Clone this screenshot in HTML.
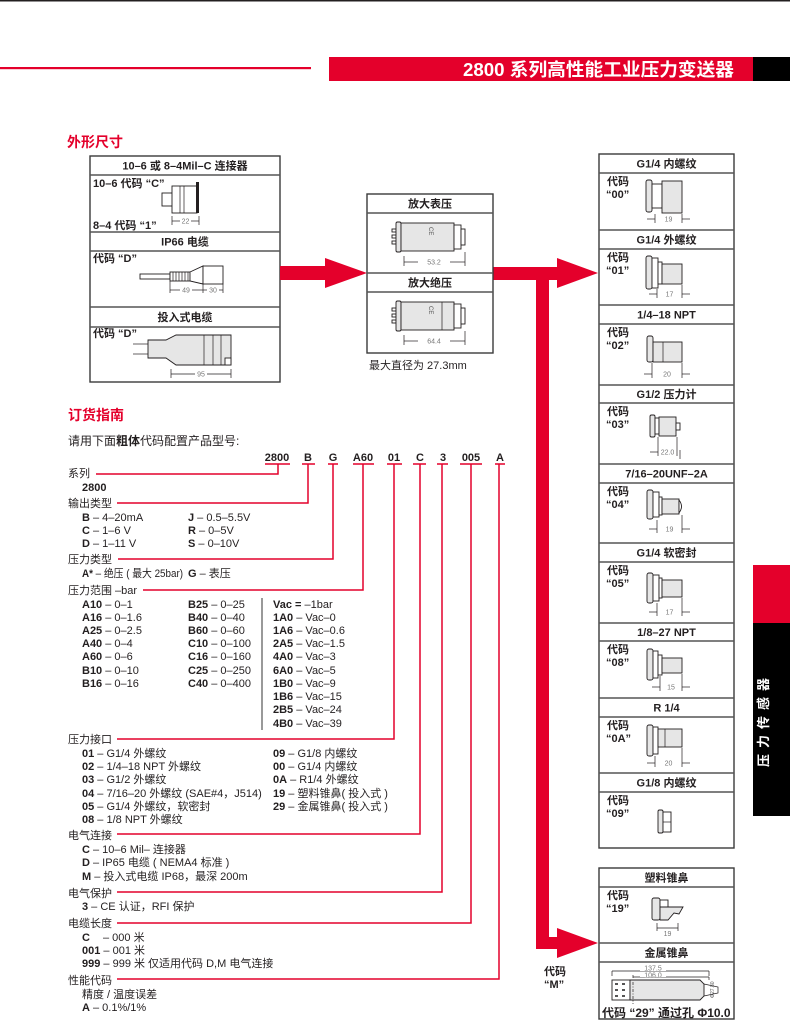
<!DOCTYPE html>
<html><head><meta charset="utf-8">
<style>
html,body{margin:0;padding:0;background:#fff;}
svg{display:block}
text{font-family:"Liberation Sans","Noto Sans CJK SC",sans-serif;fill:#231f20;}
.n{font-size:11px}
.b{font-weight:bold}
.h{font-size:11px;font-weight:bold;text-anchor:middle}
.d{font-size:7px;fill:#777;text-anchor:middle}
.bx{fill:none;stroke:#3a3a3a;stroke-width:1.4}
.sp{stroke:#555;stroke-width:1.6}
.rl{fill:none;stroke:#e4002b;stroke-width:1.5}
.f{fill:#e6e6e6;stroke:#231f20;stroke-width:0.9}
.w{fill:#fff;stroke:#231f20;stroke-width:0.9}
.dl{stroke:#231f20;stroke-width:0.7;fill:none}
</style></head><body>
<svg width="790" height="1032" viewBox="0 0 790 1032">
<!-- top -->
<rect x="0" y="0" width="790" height="1.5" fill="#231f20"/>
<rect x="0" y="67" width="311" height="2.2" fill="#e4002b"/>
<rect x="329" y="57" width="424" height="24" fill="#e4002b"/>
<rect x="753" y="57" width="37" height="24" fill="#000"/>
<text x="734" y="76" text-anchor="end" style="font-size:18px;font-weight:bold;fill:#fff" textLength="271" lengthAdjust="spacingAndGlyphs">2800 系列高性能工业压力变送器</text>

<text x="67" y="147" style="font-size:14px;font-weight:bold;fill:#e4002b">外形尺寸</text>
<text x="68" y="420" style="font-size:14px;font-weight:bold;fill:#e4002b">订货指南</text>

<!-- LEFT BOX -->
<rect class="bx" x="90" y="156" width="190" height="226"/>
<line class="sp" x1="90" y1="175" x2="280" y2="175"/>
<line class="sp" x1="90" y1="232" x2="280" y2="232"/>
<line class="sp" x1="90" y1="251" x2="280" y2="251"/>
<line class="sp" x1="90" y1="307" x2="280" y2="307"/>
<line class="sp" x1="90" y1="327" x2="280" y2="327"/>
<text class="h" x="185" y="169.5">10–6 或 8–4Mil–C 连接器</text>
<text class="h" x="185" y="245.5">IP66 电缆</text>
<text class="h" x="185" y="321">投入式电缆</text>
<text class="n b" x="93" y="187">10–6 代码 “C”</text>
<text class="n b" x="93" y="229">8–4 代码 “1”</text>
<text class="n b" x="93" y="262">代码 “D”</text>
<text class="n b" x="93" y="337">代码 “D”</text>
<!-- connector C -->
<rect class="w" x="162" y="193" width="11" height="13"/>
<rect class="w" x="172" y="186" width="25" height="27"/>
<line class="dl" x1="180" y1="186" x2="180" y2="213"/>
<line class="dl" x1="184" y1="186" x2="184" y2="213"/>
<rect x="196" y="182" width="3" height="31" fill="#231f20"/>
<line class="dl" x1="172" y1="216" x2="172" y2="225"/><line class="dl" x1="199" y1="216" x2="199" y2="225"/>
<line class="dl" x1="172" y1="221" x2="180" y2="221"/><line class="dl" x1="191" y1="221" x2="199" y2="221"/>
<text class="d" x="185.5" y="223.5">22</text>
<!-- IP66 cable -->
<rect class="w" x="140" y="274" width="30" height="5"/>
<rect class="w" x="170" y="272" width="20" height="9"/>
<g class="dl"><line x1="173" y1="272" x2="173" y2="281"/><line x1="176" y1="272" x2="176" y2="281"/><line x1="179" y1="272" x2="179" y2="281"/><line x1="182" y1="272" x2="182" y2="281"/><line x1="185" y1="272" x2="185" y2="281"/><line x1="188" y1="272" x2="188" y2="281"/></g>
<polygon class="w" points="190,272 203,266 203,284 190,281"/>
<rect class="w" x="203" y="266" width="20" height="18"/>
<line class="dl" x1="170" y1="281" x2="170" y2="293"/><line class="dl" x1="203" y1="284" x2="203" y2="293"/><line class="dl" x1="223" y1="284" x2="223" y2="293"/>
<line class="dl" x1="170" y1="290" x2="180" y2="290"/><line class="dl" x1="192" y1="290" x2="203" y2="290"/><line class="dl" x1="203" y1="290" x2="207" y2="290"/><line class="dl" x1="219" y1="290" x2="223" y2="290"/>
<text class="d" x="186" y="292.5">49</text><text class="d" x="213" y="292.5">30</text>
<!-- immersion -->
<line class="dl" x1="133" y1="344" x2="148" y2="344"/><line class="dl" x1="133" y1="354" x2="148" y2="354"/>
<path class="f" d="M148,340 L166,340 L176,335 L231,335 L231,365 L176,365 L166,358 L148,358 Z"/>
<line class="dl" x1="204" y1="335" x2="204" y2="365"/><line class="dl" x1="213" y1="335" x2="213" y2="365"/><line class="dl" x1="221" y1="335" x2="221" y2="365"/>
<rect class="w" x="225" y="358" width="6" height="7"/>
<line class="dl" x1="171" y1="369" x2="171" y2="378"/><line class="dl" x1="231" y1="369" x2="231" y2="378"/>
<line class="dl" x1="171" y1="374" x2="195" y2="374"/><line class="dl" x1="207" y1="374" x2="231" y2="374"/>
<text class="d" x="201" y="376.5">95</text>

<!-- ARROWS -->
<g fill="#e4002b">
<rect x="280" y="266" width="46" height="14"/>
<polygon points="325,258 367,273 325,288"/>
<rect x="493" y="267" width="65" height="13"/>
<polygon points="557,258 598,273 557,288"/>
<rect x="536" y="273" width="13" height="676"/>
<rect x="536" y="937" width="22" height="12"/>
<polygon points="557,928 598,943 557,958"/>
</g>
<text class="n b" x="544" y="975">代码</text>
<text class="n b" x="544" y="988">“M”</text>

<!-- MIDDLE BOX -->
<rect class="bx" x="367" y="194" width="126" height="159"/>
<line class="sp" x1="367" y1="213" x2="493" y2="213"/>
<line class="sp" x1="367" y1="273" x2="493" y2="273"/>
<line class="sp" x1="367" y1="292" x2="493" y2="292"/>
<text class="h" x="430" y="207.5">放大表压</text>
<text class="h" x="430" y="286.5">放大绝压</text>
<g id="tx">
<rect class="w" x="392" y="229" width="4" height="3"/><rect class="w" x="392" y="235" width="4" height="3"/><rect class="w" x="392" y="241" width="4" height="3"/>
<rect class="f" x="396" y="222" width="5" height="30" rx="1.5"/>
<rect class="f" x="401" y="223" width="53" height="28"/>
<rect class="w" x="454" y="225" width="7" height="24"/>
<rect class="w" x="461" y="229" width="4" height="16"/>
<text x="429" y="227" style="font-size:6px;fill:#555" transform="rotate(90 429 227)">CE</text>
</g>
<line class="dl" x1="404" y1="256" x2="404" y2="266"/><line class="dl" x1="465" y1="252" x2="465" y2="266"/>
<line class="dl" x1="404" y1="262" x2="418" y2="262"/><line class="dl" x1="450" y1="262" x2="465" y2="262"/>
<text class="d" x="434" y="264.5">53.2</text>
<use href="#tx" transform="translate(0,79)"/>
<line class="dl" x1="442" y1="302" x2="442" y2="330"/>
<line class="dl" x1="404" y1="335" x2="404" y2="345"/><line class="dl" x1="465" y1="331" x2="465" y2="345"/>
<line class="dl" x1="404" y1="341" x2="418" y2="341"/><line class="dl" x1="450" y1="341" x2="465" y2="341"/>
<text class="d" x="434" y="343.5">64.4</text>
<text class="n" x="369" y="369">最大直径为 27.3mm</text>

<!-- RIGHT BOX -->
<rect class="bx" x="599" y="154" width="135" height="694"/>
<g class="sp">
<line x1="599" y1="173" x2="734" y2="173"/><line x1="599" y1="230" x2="734" y2="230"/><line x1="599" y1="249" x2="734" y2="249"/>
<line x1="599" y1="305" x2="734" y2="305"/><line x1="599" y1="324" x2="734" y2="324"/><line x1="599" y1="385" x2="734" y2="385"/>
<line x1="599" y1="403" x2="734" y2="403"/><line x1="599" y1="464" x2="734" y2="464"/><line x1="599" y1="483" x2="734" y2="483"/>
<line x1="599" y1="543" x2="734" y2="543"/><line x1="599" y1="562" x2="734" y2="562"/><line x1="599" y1="623" x2="734" y2="623"/>
<line x1="599" y1="641" x2="734" y2="641"/><line x1="599" y1="698" x2="734" y2="698"/><line x1="599" y1="717" x2="734" y2="717"/>
<line x1="599" y1="773" x2="734" y2="773"/><line x1="599" y1="792" x2="734" y2="792"/>
</g>
<text class="h" x="666.5" y="167.5">G1/4 内螺纹</text>
<text class="h" x="666.5" y="243.5">G1/4 外螺纹</text>
<text class="h" x="666.5" y="318.5">1/4–18 NPT</text>
<text class="h" x="666.5" y="398">G1/2 压力计</text>
<text class="h" x="666.5" y="477.5">7/16–20UNF–2A</text>
<text class="h" x="666.5" y="556.5">G1/4 软密封</text>
<text class="h" x="666.5" y="636">1/8–27 NPT</text>
<text class="h" x="666.5" y="711.5">R 1/4</text>
<text class="h" x="666.5" y="786.5">G1/8 内螺纹</text>
<g class="n b">
<text x="607" y="185">代码</text><text x="606" y="198">“00”</text>
<text x="607" y="261">代码</text><text x="606" y="274">“01”</text>
<text x="607" y="336">代码</text><text x="606" y="349">“02”</text>
<text x="607" y="415">代码</text><text x="606" y="428">“03”</text>
<text x="607" y="495">代码</text><text x="606" y="508">“04”</text>
<text x="607" y="574">代码</text><text x="606" y="587">“05”</text>
<text x="607" y="653">代码</text><text x="606" y="666">“08”</text>
<text x="607" y="729">代码</text><text x="606" y="742">“0A”</text>
<text x="607" y="804">代码</text><text x="606" y="817">“09”</text>
</g>
<!-- 00 -->
<rect class="f" x="646" y="180" width="6" height="32" rx="2"/><rect class="w" x="652" y="184" width="10" height="24"/><rect class="f" x="662" y="181" width="20" height="32"/>
<g class="dl"><line x1="655" y1="214" x2="655" y2="223"/><line x1="682" y1="214" x2="682" y2="223"/><line x1="647" y1="219" x2="655" y2="219"/><line x1="682" y1="219" x2="690" y2="219"/></g>
<text class="d" x="668.5" y="221.5">19</text>
<!-- 01 -->
<rect class="f" x="646" y="256" width="6" height="33" rx="2"/><rect class="w" x="652" y="258" width="6" height="30"/><rect class="w" x="658" y="262" width="4" height="22"/><rect class="f" x="662" y="264" width="20" height="20"/>
<g class="dl"><line x1="657" y1="289" x2="657" y2="298"/><line x1="682" y1="285" x2="682" y2="298"/><line x1="649" y1="294" x2="657" y2="294"/><line x1="682" y1="294" x2="690" y2="294"/></g>
<text class="d" x="669.5" y="296.5">17</text>
<!-- 02 -->
<rect class="f" x="647" y="336" width="6" height="26" rx="2"/><rect class="f" x="653" y="342" width="29" height="20"/><line class="dl" x1="663" y1="342" x2="663" y2="362"/>
<g class="dl"><line x1="652" y1="363" x2="652" y2="378"/><line x1="682" y1="363" x2="682" y2="378"/><line x1="644" y1="374" x2="652" y2="374"/><line x1="682" y1="374" x2="690" y2="374"/></g>
<text class="d" x="667" y="376.5">20</text>
<!-- 03 -->
<rect class="f" x="650" y="415" width="5" height="22" rx="1.5"/><rect class="w" x="655" y="418" width="4" height="16"/><rect class="f" x="659" y="417" width="17" height="19"/><rect class="w" x="676" y="423" width="4" height="7"/>
<g class="dl"><line x1="658" y1="437" x2="658" y2="456"/><line x1="677" y1="437" x2="677" y2="456"/><line x1="680" y1="450" x2="680" y2="459"/><line x1="650" y1="452" x2="658" y2="452"/></g>
<text class="d" x="667.5" y="454.5">22.0</text>
<!-- 04 -->
<rect class="f" x="647" y="490" width="6" height="29" rx="2"/><rect class="w" x="653" y="492" width="6" height="25"/><rect class="w" x="659" y="497" width="3" height="18"/><rect class="f" x="662" y="499" width="17" height="15"/><path class="w" d="M679,500 Q684,506.5 679,513 Z"/>
<g class="dl"><line x1="657" y1="520" x2="657" y2="533"/><line x1="682" y1="515" x2="682" y2="533"/><line x1="649" y1="529" x2="657" y2="529"/><line x1="682" y1="529" x2="690" y2="529"/></g>
<text class="d" x="669.5" y="531.5">19</text>
<!-- 05 -->
<rect class="f" x="647" y="573" width="6" height="30" rx="2"/><rect class="w" x="653" y="575" width="6" height="26"/><rect class="w" x="659" y="578" width="3" height="20"/><rect class="f" x="662" y="580" width="20" height="17"/>
<g class="dl"><line x1="657" y1="603" x2="657" y2="616"/><line x1="682" y1="598" x2="682" y2="616"/><line x1="649" y1="612" x2="657" y2="612"/><line x1="682" y1="612" x2="690" y2="612"/></g>
<text class="d" x="669.5" y="614.5">17</text>
<!-- 08 -->
<rect class="f" x="647" y="649" width="6" height="31" rx="2"/><rect class="w" x="653" y="651" width="5" height="27"/><rect class="w" x="658" y="655" width="4" height="20"/><rect class="f" x="662" y="658" width="20" height="15"/>
<g class="dl"><line x1="660" y1="676" x2="660" y2="691"/><line x1="682" y1="674" x2="682" y2="691"/><line x1="652" y1="687" x2="660" y2="687"/><line x1="682" y1="687" x2="690" y2="687"/></g>
<text class="d" x="671" y="689.5">15</text>
<!-- 0A -->
<rect class="f" x="647" y="725" width="6" height="31" rx="2"/><rect class="w" x="653" y="727" width="5" height="27"/><rect class="f" x="658" y="729" width="24" height="18"/><line class="dl" x1="665" y1="729" x2="665" y2="747"/>
<g class="dl"><line x1="655" y1="756" x2="655" y2="767"/><line x1="682" y1="748" x2="682" y2="767"/><line x1="647" y1="763" x2="655" y2="763"/><line x1="682" y1="763" x2="690" y2="763"/></g>
<text class="d" x="668.5" y="765.5">20</text>
<!-- 09 -->
<rect class="f" x="658" y="810" width="5" height="23" rx="1.5"/><rect class="w" x="663" y="812" width="8" height="20"/><line class="dl" x1="663" y1="822" x2="671" y2="822"/>

<!-- LOWER RIGHT BOX -->
<rect class="bx" x="599" y="868" width="135" height="151"/>
<line class="sp" x1="599" y1="887" x2="734" y2="887"/>
<line class="sp" x1="599" y1="943" x2="734" y2="943"/>
<line class="sp" x1="599" y1="962" x2="734" y2="962"/>
<text class="h" x="666.5" y="881.5">塑料锥鼻</text>
<text class="h" x="666.5" y="956.5">金属锥鼻</text>
<text class="n b" x="607" y="899">代码</text><text class="n b" x="606" y="912">“19”</text>
<rect class="f" x="652" y="898" width="8" height="22" rx="2"/>
<rect class="w" x="660" y="900" width="8" height="7"/>
<path class="f" d="M660,907 L683,907 L679,914 L674,913 L668,920 L660,920 Z"/>
<g class="dl"><line x1="657" y1="923" x2="657" y2="931"/><line x1="678" y1="923" x2="678" y2="931"/><line x1="657" y1="928" x2="678" y2="928"/></g>
<text class="d" x="667.5" y="936">19</text>
<!-- metal nose -->
<g class="dl"><line x1="612" y1="971" x2="709" y2="971"/><line x1="612" y1="971" x2="612" y2="976"/><line x1="709" y1="971" x2="709" y2="976"/>
<line x1="633" y1="977" x2="709" y2="977"/><line x1="709" y1="977" x2="709" y2="980"/></g>
<rect x="640" y="965" width="26" height="6" fill="#fff"/><text class="d" x="653" y="970.5">137.5</text>
<rect x="640" y="972" width="26" height="5" fill="#fff"/><text class="d" x="653" y="977.5">106.0</text>
<rect class="w" x="612" y="980" width="18" height="20"/>
<g fill="#555"><rect x="615" y="983" width="3" height="2"/><rect x="622" y="983" width="3" height="2"/><rect x="615" y="989" width="3" height="2"/><rect x="622" y="989" width="3" height="2"/><rect x="615" y="995" width="3" height="2"/><rect x="622" y="995" width="3" height="2"/></g>
<path class="f" d="M630,980 L700,980 L704,984 L704,996 L700,1000 L630,1000 Z"/>
<line x1="633" y1="975" x2="633" y2="1004" stroke="#231f20" stroke-width="0.7" stroke-dasharray="3,1.5,1,1.5"/>
<path class="dl" d="M704,984 L718,987 L718,993 L704,996"/>
<text x="714" y="998" style="font-size:5px;fill:#555" transform="rotate(-90 714 998)">Φ27.80</text>
<text x="602" y="1017" style="font-size:12px;font-weight:bold">代码 “29” 通过孔 Φ10.0</text>

<!-- SIDE TAB -->
<rect x="753" y="565" width="37" height="58" fill="#e4002b"/>
<rect x="753" y="623" width="37" height="193" fill="#000"/>
<text x="768" y="719.5" text-anchor="middle" transform="rotate(-90 768 719.5)" style="font-size:13px;font-weight:bold;fill:#fff;letter-spacing:6px">压力传感器</text>

<!-- ORDER GUIDE -->
<text x="68" y="445" style="font-size:12px">请用下面<tspan class="b">粗体</tspan>代码配置产品型号:</text>
<g class="n b" text-anchor="middle">
<text x="277" y="461">2800</text><text x="308" y="461">B</text><text x="333" y="461">G</text><text x="363" y="461">A60</text>
<text x="394" y="461">01</text><text x="420" y="461">C</text><text x="443" y="461">3</text><text x="471" y="461">005</text><text x="500" y="461">A</text>
</g>
<g class="rl">
<line x1="265" y1="464" x2="290" y2="464"/><line x1="302" y1="464" x2="315" y2="464"/><line x1="328" y1="464" x2="338" y2="464"/>
<line x1="353" y1="464" x2="374" y2="464"/><line x1="387" y1="464" x2="402" y2="464"/><line x1="413" y1="464" x2="426" y2="464"/>
<line x1="437" y1="464" x2="448" y2="464"/><line x1="460" y1="464" x2="482" y2="464"/><line x1="495" y1="464" x2="505" y2="464"/>
<polyline points="278,464 278,474 96,474"/>
<polyline points="308,464 308,503 117,503"/>
<polyline points="333,464 333,559 118,559"/>
<polyline points="363,464 363,590 143,590"/>
<polyline points="394,464 394,739 117,739"/>
<polyline points="420,464 420,834 117,834"/>
<polyline points="442,464 442,892 117,892"/>
<polyline points="471,464 471,923 117,923"/>
<polyline points="499,464 499,979 117,979"/>
</g>
<g class="n">
<text x="68" y="477">系列</text>
<text x="82" y="491" class="b">2800</text>
<text x="68" y="507">输出类型</text>
<text x="82" y="521"><tspan class="b">B</tspan> – 4–20mA</text><text x="188" y="521"><tspan class="b">J</tspan> – 0.5–5.5V</text>
<text x="82" y="534"><tspan class="b">C</tspan> – 1–6 V</text><text x="188" y="534"><tspan class="b">R</tspan> – 0–5V</text>
<text x="82" y="547"><tspan class="b">D</tspan> – 1–11 V</text><text x="188" y="547"><tspan class="b">S</tspan> – 0–10V</text>
<text x="68" y="563">压力类型</text>
<text x="82" y="577" textLength="101" lengthAdjust="spacingAndGlyphs"><tspan class="b">A*</tspan> – 绝压 ( 最大 25bar)</text><text x="188" y="577"><tspan class="b">G</tspan> – 表压</text>
<text x="68" y="594">压力范围 –bar</text>
<text x="82" y="608"><tspan class="b">A10</tspan> – 0–1</text>
<text x="82" y="621"><tspan class="b">A16</tspan> – 0–1.6</text>
<text x="82" y="634"><tspan class="b">A25</tspan> – 0–2.5</text>
<text x="82" y="647"><tspan class="b">A40</tspan> – 0–4</text>
<text x="82" y="660"><tspan class="b">A60</tspan> – 0–6</text>
<text x="82" y="674"><tspan class="b">B10</tspan> – 0–10</text>
<text x="82" y="687"><tspan class="b">B16</tspan> – 0–16</text>
<text x="188" y="608"><tspan class="b">B25</tspan> – 0–25</text>
<text x="188" y="621"><tspan class="b">B40</tspan> – 0–40</text>
<text x="188" y="634"><tspan class="b">B60</tspan> – 0–60</text>
<text x="188" y="647"><tspan class="b">C10</tspan> – 0–100</text>
<text x="188" y="660"><tspan class="b">C16</tspan> – 0–160</text>
<text x="188" y="674"><tspan class="b">C25</tspan> – 0–250</text>
<text x="188" y="687"><tspan class="b">C40</tspan> – 0–400</text>
<text x="273" y="608"><tspan class="b">Vac =</tspan> –1bar</text>
<text x="273" y="621"><tspan class="b">1A0</tspan> – Vac–0</text>
<text x="273" y="634"><tspan class="b">1A6</tspan> – Vac–0.6</text>
<text x="273" y="647"><tspan class="b">2A5</tspan> – Vac–1.5</text>
<text x="273" y="660"><tspan class="b">4A0</tspan> – Vac–3</text>
<text x="273" y="674"><tspan class="b">6A0</tspan> – Vac–5</text>
<text x="273" y="687"><tspan class="b">1B0</tspan> – Vac–9</text>
<text x="273" y="700"><tspan class="b">1B6</tspan> – Vac–15</text>
<text x="273" y="713"><tspan class="b">2B5</tspan> – Vac–24</text>
<text x="273" y="727"><tspan class="b">4B0</tspan> – Vac–39</text>
<text x="68" y="743">压力接口</text>
<text x="82" y="757"><tspan class="b">01</tspan> – G1/4 外螺纹</text>
<text x="82" y="770"><tspan class="b">02</tspan> – 1/4–18 NPT 外螺纹</text>
<text x="82" y="783"><tspan class="b">03</tspan> – G1/2 外螺纹</text>
<text x="82" y="797"><tspan class="b">04</tspan> – 7/16–20 外螺纹 (SAE#4，J514)</text>
<text x="82" y="810"><tspan class="b">05</tspan> – G1/4 外螺纹，软密封</text>
<text x="82" y="823"><tspan class="b">08</tspan> – 1/8 NPT 外螺纹</text>
<text x="273" y="757"><tspan class="b">09</tspan> – G1/8 内螺纹</text>
<text x="273" y="770"><tspan class="b">00</tspan> – G1/4 内螺纹</text>
<text x="273" y="783"><tspan class="b">0A</tspan> – R1/4 外螺纹</text>
<text x="273" y="797"><tspan class="b">19</tspan> – 塑料锥鼻( 投入式 )</text>
<text x="273" y="810"><tspan class="b">29</tspan> – 金属锥鼻( 投入式 )</text>
<text x="68" y="839">电气连接</text>
<text x="82" y="853"><tspan class="b">C</tspan>  – 10–6 Mil– 连接器</text>
<text x="82" y="866"><tspan class="b">D</tspan> – IP65 电缆 ( NEMA4 标准 )</text>
<text x="82" y="880"><tspan class="b">M</tspan> – 投入式电缆 IP68，最深 200m</text>
<text x="68" y="897">电气保护</text>
<text x="82" y="910"><tspan class="b">3</tspan> – CE 认证，RFI 保护</text>
<text x="68" y="927">电缆长度</text>
<text x="82" y="941" class="b">C</text><text x="103" y="941">– 000 米</text>
<text x="82" y="954"><tspan class="b">001</tspan> – 001 米</text>
<text x="82" y="967"><tspan class="b">999</tspan> – 999 米 仅适用代码 D,M 电气连接</text>
<text x="68" y="984">性能代码</text>
<text x="82" y="998">精度 / 温度误差</text>
<text x="82" y="1011"><tspan class="b">A</tspan> – 0.1%/1%</text>
</g>
<line x1="262" y1="598" x2="262" y2="730" stroke="#333" stroke-width="1"/>
</svg>
</body></html>
